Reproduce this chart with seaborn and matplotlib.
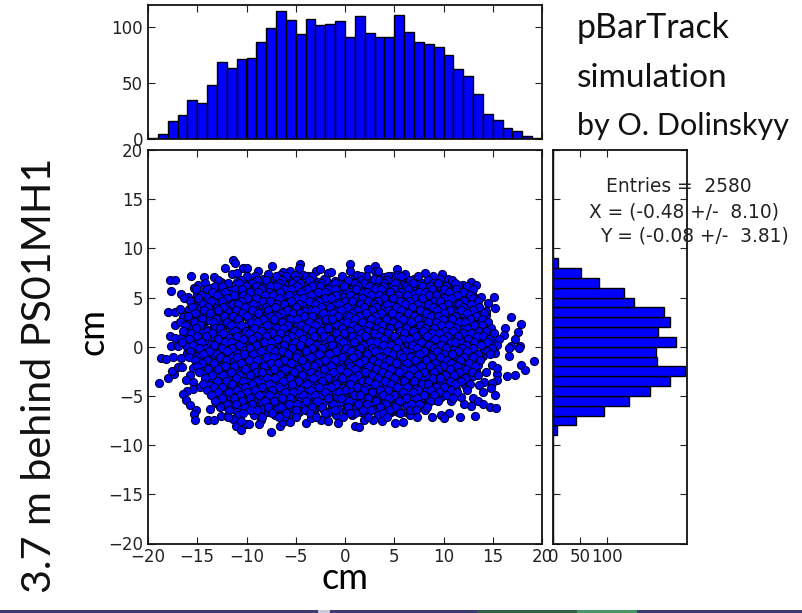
import numpy as np
import pandas as pd
import matplotlib
matplotlib.use("Agg")
import matplotlib.pyplot as plt
from matplotlib.patches import Rectangle
import seaborn as sns

# ---- histogram of x (1 cm bins, -20 .. 20)
x_bin_left = list(range(-20, 20))
x_counts = [1, 4, 16, 21, 35, 32, 48, 69, 63, 71, 72, 87, 99, 114, 106, 94, 107, 102, 103, 105,
            91, 110, 95, 91, 91, 111, 96, 87, 85, 82, 75, 62, 56, 40, 22, 17, 10, 7, 2, 1]
# ---- histogram of y (1 cm bins)
y_bin_left = [8, 7, 6, 5, 4, 3, 2, 1, 0, -1, -2, -3, -4, -5, -6, -7, -8, -9]
y_counts = [8, 52, 85, 132, 151, 207, 218, 196, 228, 192, 194, 245, 217, 180, 142, 94, 42, 6]

# ---- outer points of the cloud, read one by one
edge_x = [-17.7, -17.8, -17.3, -15.6, -14.3, -13.3, -18.0, -17.3, -16.8, -16.7, -16.3, -15.8, -14.7, -17.3, -16.4,
          -16.8, -17.8, -17.3, -16.6, -17.7, -17.0, -16.2, -15.7, -11.4, -11.2, -12.2, -10.4, -10.0, -11.5, -11.0,
          -8.8, -7.4, -7.8, -10.0, -18.7, -18.2, -17.5, -16.7, -18.9, -18.0, -17.4, -17.6, -17.0, -16.5, -15.4,
          -15.7, -16.1, -15.4, -15.4, -14.7, -16.0, -16.4, -16.1, -15.7, -15.1, -15.3, -15.2, -13.7, -13.9, -13.3,
          -12.6, -12.0, -11.4, -11.1, -10.6, -10.1, -9.7, -10.6, -8.5, -8.7, -7.5, -16.0, -14.7, -14.1,
          -4.6, -4.7, -5.6, -6.3, -6.6, -2.9, -2.5, -1.7, -1.4, -3.8, -4.3, -5.1, -1.0, 0.0, 0.5, 0.55, 1.25, 2.3,
          3.0, 3.0, 2.1, 3.4, 4.0, 5.3, 5.3, 6.1, 4.7, 2.95, 1.0, -6.6, -6.3, -5.6, -4.0, -3.5, -2.4, -1.7, -0.7,
          1.0, 1.4, 1.9, 2.8, 3.8, 5.1, 5.9, -4.8, 0.1, 0.98, 2.05, 4.4, 5.4, -6.1,
          8.1, 9.8, 9.6, 10.5, 9.0, 8.2, 11.5, 12.8, 13.3, 13.85, 15.1, 14.5, 15.25, 14.35, 14.35, 16.9, 17.9, 16.2,
          16.15, 17.6, 17.3, 17.8, 16.9, 15.25, 15.25, 14.5, 13.75, 13.7, 12.5, 12.9, 11.8, 10.5, 11.15,
          16.7, 17.7, 16.7, 19.15, 17.9, 18.3, 17.3, 16.4, 15.4, 14.9, 15.45, 14.35, 13.5, 15.4, 14.9, 15.25, 14.85,
          14.1, 13.6, 14.0, 13.0, 13.5, 14.0, 14.75, 15.3, 12.8, 12.1, 13.15, 11.65, 10.6, 9.7, 8.8, 8.1, 10.0,
          10.8, 11.8, 11.3, 12.2, 13.0, 12.5, 13.35]
edge_y = [5.7, 6.75, 6.8, 7.15, 7.1, 7.05, 3.5, 3.5, 3.85, 5.4, 5.0, 3.8, 3.9, 2.2, 3.0,
          2.5, 1.05, 0.9, 0.9, 0.1, 0.1, 1.45, 0.8, 8.85, 8.5, 8.0, 8.0, 8.0, 7.4, 7.5,
          7.7, 8.2, 7.4, 7.15, -1.15, -1.2, -1.0, -1.15, -3.7, -3.2, -2.75, -2.45, -2.1, -2.1, -2.2,
          -2.85, -3.35, -3.6, -4.3, -4.05, -4.5, -4.8, -5.4, -5.9, -6.4, -6.85, -7.45, -6.35, -7.45, -7.45,
          -7.0, -7.0, -7.3, -8.1, -8.45, -7.9, -7.9, -7.5, -7.4, -7.85, -8.65, -0.65, -1.0, -1.35,
          8.45, 8.0, 7.75, 7.6, 7.3, 7.75, 7.9, 7.5, 7.55, 7.2, 7.3, 7.3, 6.65, 6.5, 8.4, 7.7, 7.3, 7.9,
          8.25, 7.65, 7.2, 7.65, 7.05, 7.95, 7.3, 7.4, 7.2, 6.9, 6.6, -8.1, -7.7, -7.7, -7.8, -7.2, -7.4, -7.5, -7.8,
          -8.05, -8.2, -7.4, -7.4, -7.55, -7.8, -7.7, -6.5, -6.5, -6.75, -6.75, -6.7, -6.6, -7.0,
          7.5, 7.4, 6.9, 6.9, 6.65, 6.3, 6.3, 6.55, 6.3, 5.05, 5.1, 4.4, 3.9, 3.2, 3.6, 3.0, 2.3, 1.9,
          1.15, 1.45, 0.8, 0.05, 0.05, 0.9, 0.4, 1.45, 2.5, 1.75, 4.0, 5.4, 5.6, 5.85, 5.4,
          -0.1, -0.1, -0.9, -1.4, -1.85, -2.4, -2.85, -3.0, -2.8, -1.85, -2.2, -2.6, -1.9, -3.35, -3.7, -4.9, -4.2,
          -3.6, -3.85, -4.65, -5.2, -5.55, -5.85, -6.15, -6.25, -6.0, -5.8, -7.0, -7.1, -6.75, -6.9, -7.1, -6.4, -7.2,
          -5.55, -5.15, -4.25, -3.85, -3.0, -1.85, -2.5]

# ---- the dense body of the cloud, estimated band by band (lower layer)
band_y = [6.9, 6.6, 6.3, 6.0, 5.7, 5.4, 5.1, 4.8, 4.5, 4.2, 3.9, 3.6, 3.3, 3.0, 2.7, 2.4, 2.1, 1.8, 1.5, 1.2, 0.9, 0.6,
          0.3, 0.0, -0.3, -0.6, -0.9, -1.2, -1.5, -1.8, -2.1, -2.4, -2.7, -3.0, -3.3, -3.6, -3.9, -4.2, -4.5, -4.8,
          -5.1, -5.4, -5.7, -6.0, -6.3, -6.6, -6.9]
band_x = [
    [-9.6, -8.3, -6.9, -5.5, -3.2, -2.1, 0.9, 1.9, 3.7, 5.9, 7.0],
    [-12.6, -11.0, -9.1, -7.6, -6.2, -4.8, -2.7, -0.4, 1.4, 2.6, 4.5, 6.4, 7.6, 8.8, 10.1],
    [-14.9, -12.1, -10.3, -8.7, -7.1, -5.9, -4.2, -3.0, -1.3, 0.2, 2.1, 3.3, 4.8, 5.9, 7.3, 9.1, 10.9, 12.0],
    [-15.3, -13.6, -11.7, -9.8, -8.2, -6.5, -5.2, -3.6, -2.1, -0.7, 0.8, 2.7, 4.1, 5.5, 6.8, 8.0, 9.4, 11.1, 12.3],
    [-14.2, -12.6, -10.9, -9.2, -7.4, -6.0, -4.4, -2.8, -1.5, 0.1, 1.6, 3.2, 4.7, 6.2, 7.6, 9.0, 10.1, 11.6, 12.8],
    [-15.0, -13.1, -11.6, -10.1, -8.5, -7.0, -5.3, -3.9, -2.3, -0.6, 0.9, 2.4, 3.9, 5.2, 6.9, 8.3, 9.7, 11.0, 12.4],
    [-15.9, -14.0, -12.4, -10.7, -9.3, -7.8, -6.1, -4.6, -3.1, -1.7, -0.2, 1.4, 3.0, 4.5, 6.0, 7.4, 8.9, 10.3, 11.9, 13.1],
    [-15.2, -13.4, -11.9, -10.2, -8.6, -7.2, -5.6, -4.0, -2.4, -0.9, 0.5, 2.1, 3.6, 5.3, 6.7, 8.2, 9.5, 11.1, 12.6],
    [-14.6, -12.8, -11.2, -9.5, -8.0, -6.4, -4.9, -3.3, -1.8, -0.3, 1.2, 2.8, 4.2, 5.8, 7.1, 8.7, 10.2, 11.7, 13.3],
    [-15.4, -13.8, -12.2, -10.6, -9.0, -7.5, -5.9, -4.4, -2.9, -1.2, 0.3, 1.9, 3.5, 4.9, 6.4, 7.9, 9.3, 10.8, 12.2],
    [-13.1, -11.5, -9.9, -8.4, -6.8, -5.3, -3.7, -2.2, -0.6, 0.9, 2.4, 4.0, 5.6, 7.2, 8.5, 10.0, 11.4, 13.2],
    [-15.1, -13.5, -12.0, -10.4, -8.9, -7.3, -5.7, -4.1, -2.6, -1.0, 0.6, 2.0, 3.4, 5.0, 6.6, 8.1, 9.6, 11.0, 12.6, 13.7],
    [-16.0, -14.3, -12.6, -11.1, -9.6, -7.9, -6.3, -4.8, -3.2, -1.6, -0.1, 1.5, 3.0, 4.5, 6.0, 7.5, 9.0, 10.4, 11.9, 13.4],
    [-14.8, -13.2, -11.7, -10.0, -8.5, -7.0, -5.4, -3.8, -2.3, -0.8, 0.8, 2.3, 3.9, 5.4, 6.8, 8.4, 9.8, 11.3, 12.8],
    [-15.6, -13.9, -12.3, -10.8, -9.2, -7.7, -6.1, -4.5, -3.0, -1.4, 0.1, 1.7, 3.2, 4.8, 6.3, 7.8, 9.3, 10.7, 12.2, 14.0],
    [-16.1, -14.5, -12.9, -11.3, -9.7, -8.2, -6.6, -5.0, -3.5, -1.9, -0.4, 1.1, 2.6, 4.2, 5.7, 7.2, 8.7, 10.2, 11.6, 13.0],
    [-15.0, -13.3, -11.8, -10.3, -8.7, -7.1, -5.6, -4.2, -2.5, -1.1, 0.4, 2.0, 3.6, 5.1, 6.6, 8.0, 9.5, 11.0, 12.5, 14.2],
    [-15.8, -14.1, -12.5, -11.0, -9.4, -7.9, -6.2, -4.7, -3.1, -1.6, -0.1, 1.4, 2.9, 4.4, 5.9, 7.4, 8.9, 10.5, 12.0, 13.4],
    [-14.7, -13.0, -11.5, -9.9, -8.3, -6.8, -5.3, -3.7, -2.2, -0.7, 0.9, 2.5, 3.9, 5.5, 7.0, 8.5, 10.0, 11.3, 12.8, 14.6],
    [-15.4, -13.7, -12.1, -10.6, -9.1, -7.4, -5.9, -4.3, -2.8, -1.2, 0.2, 1.8, 3.3, 4.7, 6.2, 7.7, 9.2, 10.7, 12.2, 13.6],
    [-14.9, -13.4, -11.8, -10.2, -8.6, -7.1, -5.5, -3.9, -2.4, -0.9, 0.6, 2.2, 3.7, 5.2, 6.7, 8.2, 9.7, 11.2, 12.7, 14.2],
    [-16.3, -14.3, -12.7, -11.1, -9.5, -8.0, -6.4, -4.8, -3.3, -1.8, -0.3, 1.2, 2.8, 4.3, 5.8, 7.3, 8.8, 10.3, 11.8, 13.3, 15.0],
    [-15.1, -13.6, -12.0, -10.5, -8.9, -7.3, -5.8, -4.2, -2.7, -1.1, 0.4, 1.9, 3.4, 4.9, 6.4, 7.9, 9.4, 10.9, 12.4, 13.9],
    [-16.0, -14.4, -12.8, -11.3, -9.7, -8.1, -6.6, -5.0, -3.5, -1.9, -0.5, 1.0, 2.6, 4.1, 5.6, 7.1, 8.6, 10.1, 11.5, 13.0, 14.7],
    [-15.3, -13.5, -11.9, -10.4, -8.8, -7.2, -5.7, -4.1, -2.6, -1.0, 0.5, 2.1, 3.6, 5.1, 6.5, 8.0, 9.5, 11.0, 12.6, 14.1],
    [-14.2, -12.6, -11.0, -9.5, -7.9, -6.3, -4.8, -3.2, -1.7, -0.2, 1.3, 2.8, 4.4, 5.9, 7.4, 8.9, 10.4, 11.8, 13.3, 15.2],
    [-15.0, -13.3, -11.7, -10.1, -8.6, -7.0, -5.5, -3.9, -2.4, -0.8, 0.7, 2.3, 3.8, 5.3, 6.8, 8.3, 9.8, 11.2, 12.7, 14.0],
    [-13.9, -12.3, -10.8, -9.2, -7.7, -6.1, -4.6, -3.0, -1.5, 0.0, 1.6, 3.1, 4.6, 6.1, 7.6, 9.1, 10.6, 12.1, 13.7],
    [-14.6, -13.0, -11.4, -9.9, -8.3, -6.7, -5.2, -3.6, -2.1, -0.6, 0.9, 2.5, 4.0, 5.5, 7.0, 8.5, 10.0, 11.5, 13.1],
    [-13.6, -12.1, -10.5, -9.0, -7.4, -5.9, -4.3, -2.8, -1.3, 0.3, 1.8, 3.3, 4.9, 6.4, 7.8, 9.3, 10.8, 12.0],
    [-14.3, -12.7, -11.2, -9.6, -8.0, -6.5, -4.9, -3.4, -1.9, -0.3, 1.1, 2.7, 4.2, 5.7, 7.2, 8.7, 10.2, 11.6],
    [-13.4, -11.8, -10.3, -8.7, -7.2, -5.6, -4.1, -2.5, -1.0, 0.5, 2.0, 3.6, 5.0, 6.6, 8.1, 9.6, 11.0, 12.5],
    [-14.1, -12.5, -10.9, -9.4, -7.8, -6.3, -4.7, -3.2, -1.6, -0.1, 1.5, 3.0, 4.5, 6.0, 7.5, 9.0, 10.4, 11.9],
    [-13.2, -11.6, -10.0, -8.5, -7.0, -5.4, -3.8, -2.3, -0.8, 0.7, 2.2, 3.8, 5.3, 6.8, 8.3, 9.8, 11.3, 12.6],
    [-13.8, -12.3, -10.7, -9.1, -7.6, -6.0, -4.5, -2.9, -1.4, 0.1, 1.7, 3.2, 4.7, 6.2, 7.7, 9.2, 10.6],
    [-13.0, -11.4, -9.8, -8.3, -6.7, -5.2, -3.6, -2.1, -0.6, 0.9, 2.5, 4.0, 5.5, 7.0, 8.5, 10.0, 11.5],
    [-13.7, -12.1, -10.5, -9.0, -7.4, -5.9, -4.3, -2.8, -1.2, 0.3, 1.9, 3.4, 4.9, 6.4, 7.9, 9.4, 10.9],
    [-12.8, -11.2, -9.7, -8.1, -6.5, -5.0, -3.4, -1.9, -0.4, 1.1, 2.7, 4.2, 5.7, 7.2, 8.7, 10.2],
    [-13.5, -11.9, -10.3, -8.8, -7.2, -5.7, -4.1, -2.6, -1.0, 0.5, 2.1, 3.5, 5.1, 6.6, 8.1, 9.6, 11.0],
    [-12.6, -11.0, -9.5, -7.9, -6.3, -4.8, -3.2, -1.7, -0.2, 1.3, 2.9, 4.4, 5.9, 7.4, 8.9, 10.3],
    [-13.3, -11.7, -10.1, -8.6, -7.0, -5.5, -3.9, -2.4, -0.8, 0.7, 2.3, 3.8, 5.3, 6.8, 8.3, 9.7],
    [-12.4, -10.8, -9.3, -7.7, -6.2, -4.6, -3.0, -1.5, 0.0, 1.5, 3.1, 4.6, 6.1, 7.6, 9.1],
    [-13.1, -11.5, -9.9, -8.4, -6.8, -5.3, -3.7, -2.2, -0.6, 0.9, 2.5, 4.0, 5.5, 7.0, 8.4],
    [-12.2, -10.6, -9.1, -7.5, -5.9, -4.4, -2.9, -1.3, 0.2, 1.7, 3.3, 4.8, 6.3, 7.7],
    [-11.6, -10.0, -8.4, -6.9, -5.3, -3.8, -2.2, -0.7, 0.8, 2.4, 3.9, 5.4, 6.9],
    [-11.0, -9.3, -7.8, -6.2, -4.7, -3.1, -1.6, 1.6, 3.2, 4.7, 6.2],
    [-10.9, -9.2, -7.1, -5.3, -3.0, -0.9, 0.7, 3.3, 6.6],
]

# ---- the same body, upper layer with the uneven spacing seen in the picture
upper_y = [7.15, 6.8, 6.45, 6.2, 5.85, 5.55, 5.25, 4.95, 4.65, 4.35, 4.05, 3.75, 3.45, 3.15, 2.85, 2.55, 2.25, 1.95,
           1.65, 1.35, 1.05, 0.75, 0.45, 0.15, -0.15, -0.45, -0.75, -1.05, -1.35, -1.65, -1.95, -2.25, -2.55, -2.85,
           -3.15, -3.45, -3.75, -4.05, -4.35, -4.65, -4.95, -5.25, -5.55, -5.85, -6.15, -6.45, -6.75, -7.1]
upper_x = [
    [-9.1, -7.0, -6.0, -4.0, -3.4, -0.3, 1.6, 4.4, 5.7, 7.4, 8.9],
    [-12.9, -10.6, -8.9, -8.0, -6.4, -5.0, -3.7, -1.9, 0.3, 1.6, 3.5, 4.3, 6.6, 8.4, 10.9],
    [-14.2, -11.9, -10.8, -9.4, -6.7, -5.4, -4.6, -2.4, -1.0, 1.0, 1.9, 4.0, 5.1, 6.9, 8.9, 9.4, 11.2],
    [-13.2, -12.5, -10.1, -9.0, -7.6, -6.9, -4.9, -3.3, -2.5, -0.1, 1.3, 2.4, 3.9, 6.2, 7.8, 8.6, 10.3, 12.4],
    [-15.1, -14.0, -11.2, -10.5, -8.5, -6.2, -5.5, -3.9, -1.7, -1.0, 1.1, 3.0, 3.7, 5.0, 6.4, 8.8, 10.0, 11.3, 13.0],
    [-13.5, -12.2, -9.6, -8.8, -7.7, -6.6, -4.5, -2.7, -2.0, 0.4, 1.8, 2.2, 4.6, 5.7, 7.5, 8.1, 10.6, 12.0],
    [-14.6, -13.0, -11.3, -10.4, -8.1, -7.3, -5.7, -3.5, -0.9, 0.5, 2.6, 3.5, 5.4, 6.3, 8.5, 9.2, 11.4, 12.7],
    [-14.9, -12.0, -9.9, -9.0, -6.7, -5.0, -4.3, -2.0, -1.4, 1.1, 1.7, 4.0, 4.9, 7.1, 7.8, 10.0, 10.8, 13.0],
    [-15.7, -13.6, -12.5, -10.6, -8.3, -7.6, -5.5, -3.7, -2.6, 0.0, 0.7, 2.3, 3.4, 5.6, 6.5, 9.0, 9.6, 12.1, 13.5],
    [-14.4, -11.4, -10.9, -9.3, -6.9, -6.2, -4.7, -3.0, -0.6, 1.5, 2.9, 4.3, 6.1, 7.3, 8.4, 10.5, 11.6, 12.8],
    [-15.5, -13.9, -12.4, -10.2, -8.0, -7.1, -5.0, -2.4, -1.5, 0.2, 1.9, 3.1, 5.2, 6.8, 8.9, 9.8, 12.0, 13.6],
    [-14.3, -12.9, -11.1, -9.4, -7.8, -5.9, -3.5, -3.0, -0.4, 1.2, 2.7, 4.5, 5.7, 7.6, 9.3, 10.7, 11.8, 13.0],
    [-15.2, -13.7, -10.5, -8.8, -6.5, -5.3, -4.6, -2.2, -1.2, 0.7, 2.1, 3.7, 4.8, 6.4, 8.2, 10.1, 12.4, 14.1],
    [-15.9, -12.3, -11.4, -9.9, -7.5, -6.9, -4.2, -3.3, -0.7, 0.4, 1.4, 3.0, 5.5, 7.0, 8.7, 9.4, 11.2, 13.3],
    [-14.5, -13.1, -10.9, -8.3, -7.2, -5.6, -4.9, -1.9, -1.3, 1.0, 2.6, 4.2, 5.9, 7.4, 9.9, 10.9, 12.7, 13.9],
    [-15.3, -13.4, -12.0, -9.5, -8.9, -6.4, -3.7, -2.7, 0.2, 1.7, 3.4, 4.9, 6.7, 8.4, 9.2, 11.6, 12.2, 14.5],
    [-16.2, -14.7, -11.6, -10.6, -7.9, -5.8, -4.5, -3.0, -0.8, 0.8, 2.4, 3.8, 5.4, 7.6, 9.7, 10.6, 13.1, 13.9],
    [-15.1, -13.2, -12.7, -9.2, -7.0, -6.3, -4.0, -1.7, -0.3, 1.2, 3.1, 4.6, 6.2, 8.1, 9.0, 11.3, 12.4, 14.8],
    [-16.4, -14.0, -11.2, -10.1, -8.5, -5.2, -3.4, -2.4, 0.5, 2.2, 3.7, 5.6, 6.9, 7.9, 10.2, 11.0, 13.6, 14.3],
    [-15.6, -13.5, -12.4, -9.7, -7.3, -6.6, -4.7, -0.9, -0.1, 1.6, 2.9, 4.4, 6.0, 8.8, 9.5, 12.0, 12.8, 15.1],
    [-15.0, -14.1, -11.0, -8.9, -8.0, -5.5, -3.1, -2.1, 0.7, 2.0, 3.5, 5.0, 7.2, 8.3, 10.4, 11.5, 13.4, 14.0],
    [-15.8, -12.9, -10.4, -9.4, -6.9, -6.0, -4.3, -1.5, -0.6, 1.3, 4.0, 5.8, 6.5, 9.1, 9.9, 12.5, 14.6, 15.6],
    [-16.5, -14.6, -12.2, -11.6, -8.2, -7.5, -5.1, -3.7, -0.2, 0.9, 2.5, 3.2, 5.4, 7.7, 10.8, 11.2, 13.1, 14.4],
    [-15.4, -13.3, -10.8, -9.0, -6.2, -4.6, -2.9, -1.3, 1.8, 3.9, 4.7, 6.8, 8.5, 9.7, 12.3, 13.8, 15.4],
    [-14.8, -12.5, -11.5, -9.6, -7.6, -5.4, -3.3, -2.3, 0.1, 1.5, 2.7, 5.2, 7.3, 9.0, 10.3, 11.9, 13.0, 14.9],
    [-15.7, -13.8, -12.0, -8.5, -7.1, -6.4, -4.0, -0.9, 0.6, 3.0, 4.3, 6.1, 8.0, 9.3, 11.5, 12.4, 14.4],
    [-14.4, -13.0, -10.3, -9.3, -5.8, -4.9, -2.6, -1.6, 1.2, 2.2, 4.9, 5.6, 7.5, 10.0, 10.9, 13.5, 14.7],
    [-15.8, -12.7, -11.0, -8.0, -7.3, -5.0, -3.5, -0.3, 0.8, 3.5, 5.9, 6.6, 8.7, 9.6, 12.1, 13.0],
    [-15.2, -14.0, -12.1, -9.7, -8.9, -6.2, -4.4, -2.0, -1.0, 1.9, 2.8, 4.5, 7.1, 8.2, 10.4, 11.7, 13.7],
    [-14.5, -13.3, -10.6, -7.5, -6.8, -5.5, -2.7, 0.3, 1.4, 3.4, 5.2, 6.3, 9.1, 10.8, 12.6],
    [-15.0, -12.2, -11.3, -9.2, -8.2, -3.9, -3.1, -1.4, 0.5, 2.4, 4.0, 7.7, 8.6, 9.9, 11.4, 13.2],
    [-13.9, -12.9, -10.2, -7.2, -6.1, -4.8, -2.1, -0.5, 1.0, 3.1, 4.7, 5.9, 6.9, 9.4, 10.7, 12.3],
    [-14.8, -11.6, -9.0, -8.4, -5.2, -3.5, -1.2, 0.2, 2.0, 3.8, 5.5, 8.0, 9.0, 11.6, 12.9],
    [-13.5, -12.4, -10.8, -9.6, -6.6, -4.4, -2.8, 1.3, 2.7, 4.4, 6.5, 7.4, 10.2, 11.1, 13.5],
    [-14.2, -11.1, -7.9, -7.1, -5.6, -3.2, -1.7, -0.3, 0.8, 3.3, 5.0, 8.9, 9.6, 12.2],
    [-13.0, -12.1, -10.4, -8.9, -6.3, -4.8, -2.3, 1.7, 2.3, 4.1, 6.0, 7.0, 10.7, 11.8],
    [-14.4, -11.5, -9.4, -7.7, -5.4, -3.9, -0.9, 0.5, 3.0, 4.7, 7.8, 8.4, 11.2, 12.7],
    [-13.3, -12.5, -10.2, -8.4, -6.7, -2.6, -1.4, 1.2, 2.0, 5.3, 6.3, 9.2, 10.0],
    [-14.0, -11.0, -9.1, -7.4, -4.6, -3.5, 0.0, 1.9, 3.6, 4.4, 7.4, 8.7, 10.8, 12.4],
    [-12.9, -11.8, -10.0, -6.1, -5.3, -2.0, -0.6, 2.7, 5.9, 6.9, 9.5, 11.4],
    [-13.6, -10.7, -8.7, -7.7, -4.3, -3.0, 0.9, 1.5, 3.9, 5.0, 8.0, 9.0, 10.3],
    [-12.5, -11.3, -9.6, -6.4, -5.6, -1.7, -0.4, 2.3, 4.5, 6.2, 7.3, 11.0],
    [-13.2, -10.5, -8.1, -7.2, -4.0, -2.8, 0.4, 3.1, 5.5, 8.6, 9.4],
    [-12.0, -11.1, -9.4, -5.7, -4.9, -1.2, 1.3, 2.2, 4.2, 6.7, 7.5],
    [-12.7, -10.2, -7.8, -6.5, -3.4, -2.3, 0.3, 3.6, 5.1, 8.3],
    [-11.8, -9.6, -8.9, -5.0, -4.1, -1.0, 1.8, 2.6, 4.5, 6.6, 7.2],
    [-10.4, -7.4, -6.0, -3.6, -2.0, 0.5, 3.9, 5.6],
    [-11.9, -8.4, -6.7, -5.0, -2.9, -0.2, 2.3, 4.3, 7.3],
]

x_ticks = [-20, -15, -10, -5, 0, 5, 10, 15, 20]
y_ticks = [-20, -15, -10, -5, 0, 5, 10, 15, 20]
top_yticks = [0, 50, 100]
right_xticks = [0, 50, 100]
stats_lines = ["Entries =  2580", "X = (-0.48 +/-  8.10)", "Y = (-0.08 +/-  3.81)"]

# ---- assemble tables
scatter = pd.DataFrame({
    "x": [v for row in band_x for v in row] + edge_x + [v for row in upper_x for v in row],
    "y": [band_y[i] for i, row in enumerate(band_x) for _ in row] + edge_y
         + [upper_y[i] for i, row in enumerate(upper_x) for _ in row],
})
x_hist = pd.DataFrame({"c": np.array(x_bin_left) + 0.5, "n": x_counts})
y_hist = pd.DataFrame({"c": np.array(y_bin_left) + 0.5, "n": y_counts})

sns.set_theme(style="white")
plt.rcParams.update({
    "font.family": "DejaVu Sans", "xtick.direction": "in", "ytick.direction": "in",
    "xtick.top": True, "ytick.right": True, "xtick.bottom": True, "ytick.left": True,
    "xtick.major.size": 5, "ytick.major.size": 5, "xtick.major.width": 0.8, "ytick.major.width": 0.8,
    "xtick.labelsize": 12, "ytick.labelsize": 12, "axes.linewidth": 1.3, "axes.edgecolor": "#111111",
    "xtick.color": "#222222", "ytick.color": "#222222", "axes.labelcolor": "#111111", "text.color": "#222222",
})

W, H = 802, 613
fig = plt.figure(figsize=(W / 100, H / 100), dpi=100, facecolor="white")


def axes_px(left, top, right, bottom):
    return fig.add_axes([left / W, 1 - bottom / H, (right - left) / W, (bottom - top) / H])


ax_top = axes_px(148, 4.7, 542, 138.7)
ax_main = axes_px(148, 150, 542, 543.5)
ax_right = axes_px(553.3, 150, 687.3, 543.5)

sns.histplot(data=x_hist, x="c", weights="n", bins=40, binrange=(-20, 20), ax=ax_top, color="#0000ff",
             edgecolor="black", linewidth=1, alpha=1)
ax_top.set(xlim=(-20, 20), ylim=(0, 120), xlabel="", ylabel="")
ax_top.set_xticks(x_ticks)
ax_top.set_yticks(top_yticks)
ax_top.tick_params(labelbottom=False)

sns.scatterplot(data=scatter, x="x", y="y", ax=ax_main, s=34, color="#0000ff", edgecolor="#000033", linewidth=0.8)
ax_main.set(xlim=(-20, 20), ylim=(-20, 20))
ax_main.set_xticks(x_ticks)
ax_main.set_yticks(y_ticks)
ax_main.set_xlabel("cm", fontfamily="Lato", fontsize=26, color="black", labelpad=-3)
ax_main.set_ylabel("cm", fontfamily="Lato", fontsize=26, color="black", labelpad=-1, y=0.54)

sns.histplot(data=y_hist, y="c", weights="n", bins=40, binrange=(-20, 20), ax=ax_right, color="#0000ff",
             edgecolor="black", linewidth=1, alpha=1)
ax_right.set(xlim=(0, 250), ylim=(-20, 20), xlabel="", ylabel="")
ax_right.set_xticks(right_xticks)
ax_right.set_yticks(y_ticks)
ax_right.tick_params(labelleft=False)

fig.text(40 / W, 1 - 375 / H, "3.7 m behind PS01MH1", rotation=90, ha="center", va="center",
         fontfamily="Lato", fontsize=29.7, color="#111111")
fig.text(577 / W, 1 - 28 / H, "pBarTrack", ha="left", va="center", fontfamily="Lato", fontsize=24.4, color="#111111")
fig.text(577 / W, 1 - 78 / H, "simulation", ha="left", va="center", fontfamily="Lato", fontsize=24, color="#111111")
fig.text(577 / W, 1 - 126 / H, "by O. Dolinskyy", ha="left", va="center", fontfamily="Lato", fontsize=22, color="#111111")

for line, left, cy in zip(stats_lines, [606, 589, 600], [187, 212, 236]):
    fig.text(left / W, 1 - cy / H, line, ha="left", va="center", fontsize=13.4, color="#222222", zorder=10)

# strip of the slide background along the bottom edge
for left, right, col in [(0, 802, "#3b3a6e"), (318, 330, "#c9c9dc"), (477, 577, "#2f5f45"), (577, 637, "#4a9468")]:
    fig.add_artist(Rectangle((left / W, 0), (right - left) / W, 3 / H, transform=fig.transFigure,
                             facecolor=col, edgecolor="none"))

fig.savefig("out.png", dpi=100)
